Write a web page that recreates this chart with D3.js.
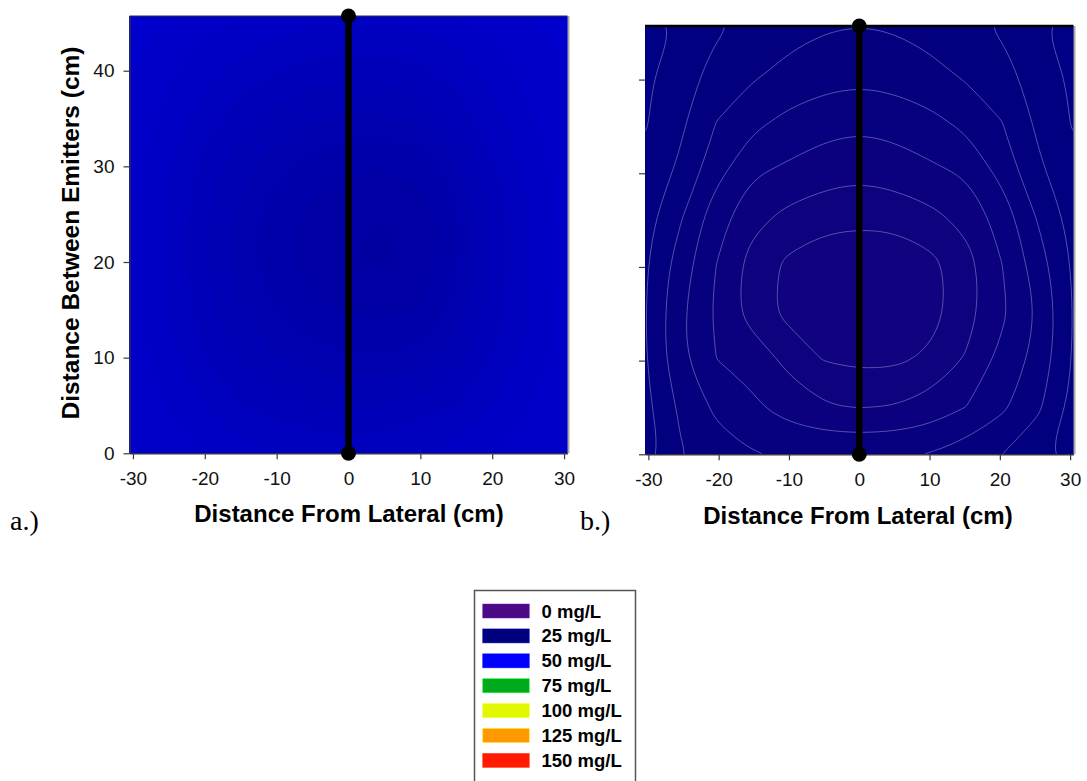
<!DOCTYPE html>
<html>
<head>
<meta charset="utf-8">
<script src="https://cdn.jsdelivr.net/npm/d3@7"></script>
<style>
  html, body { margin: 0; padding: 0; background: #ffffff; }
  svg { display: block; }
</style>
</head>
<body>
<svg id="chart" width="1087" height="781"></svg>
<script>
// ---------------- DATA ----------------
// Grid positions (cm): lateral distance and distance between emitters
const xGrid = [-30.48, -25.4, -20.32, -15.24, -10.16, -5.08, 0, 5.08, 10.16, 15.24, 20.32, 25.4, 30.48];
const yGrid = [0, 5.08, 10.16, 15.24, 20.32, 25.4, 30.48, 35.56, 40.64, 45.72];

// Panel a concentrations (mg/L), rows from y = 0 (bottom) to y = 45.72 (top)
const panelAValues = [
  [40.0, 39.5, 39.0, 38.5, 38.0, 37.8, 37.6, 37.8, 38.0, 38.5, 39.0, 39.5, 40.0],
  [40.0, 39.0, 38.0, 37.0, 36.5, 36.0, 35.8, 36.0, 36.5, 37.0, 38.0, 39.0, 40.0],
  [39.5, 38.5, 37.0, 35.8, 35.0, 34.5, 34.2, 34.2, 34.5, 35.5, 37.0, 38.5, 39.5],
  [39.5, 38.0, 36.5, 35.0, 34.0, 33.2, 32.8, 32.6, 33.0, 34.5, 36.5, 38.0, 39.5],
  [39.5, 38.0, 36.2, 34.6, 33.4, 32.5, 32.0, 31.8, 32.3, 34.0, 36.2, 38.0, 39.5],
  [39.5, 38.0, 36.3, 34.8, 33.6, 32.8, 32.2, 32.0, 32.4, 34.0, 36.3, 38.0, 39.5],
  [39.5, 38.2, 36.8, 35.5, 34.5, 33.8, 33.3, 33.2, 33.6, 35.0, 37.0, 38.5, 39.5],
  [40.0, 38.8, 37.6, 36.6, 35.8, 35.2, 35.0, 35.0, 35.4, 36.4, 37.8, 39.0, 40.0],
  [40.0, 39.3, 38.5, 37.8, 37.2, 36.8, 36.6, 36.6, 37.0, 37.6, 38.6, 39.4, 40.0],
  [40.5, 40.0, 39.5, 39.0, 38.6, 38.3, 38.2, 38.2, 38.5, 39.0, 39.5, 40.0, 40.5]
];

// Panel b concentrations (mg/L), rows from y = 0 (bottom) to y = 45.72 (top)
const panelBValues = [
  [25.6, 24.1, 23.4, 23.05, 22.95, 22.9, 22.85, 22.9, 23.05, 23.5, 24.0, 24.7, 25.7],
  [25.3, 23.8, 22.8, 22.2, 21.55, 21.1, 20.95, 21.05, 21.4, 22.0, 22.8, 23.8, 25.3],
  [25.1, 23.2, 22.0, 21.6, 20.75, 19.95, 19.75, 19.8, 20.2, 21.1, 22.3, 23.3, 25.1],
  [25.05, 23.2, 21.8, 20.55, 19.7, 19.15, 19.0, 19.0, 19.6, 20.6, 21.8, 23.1, 25.05],
  [25.15, 23.5, 22.0, 20.6, 19.8, 19.35, 19.2, 19.2, 19.7, 20.6, 22.0, 23.5, 25.15],
  [25.4, 24.1, 22.4, 21.35, 20.75, 20.4, 20.3, 20.4, 20.75, 21.35, 22.4, 24.1, 25.4],
  [25.8, 24.8, 23.4, 22.2, 21.85, 21.5, 21.3, 21.5, 21.85, 22.2, 23.4, 24.8, 25.8],
  [26.1, 25.2, 24.0, 23.3, 22.75, 22.4, 22.25, 22.4, 22.75, 23.3, 24.0, 25.2, 26.1],
  [26.2, 25.4, 24.7, 24.15, 23.75, 23.45, 23.3, 23.45, 23.75, 24.15, 24.7, 25.4, 26.2],
  [26.5, 25.9, 25.15, 24.7, 24.35, 24.1, 24.0, 24.1, 24.35, 24.7, 25.15, 25.9, 26.5]
];

// Contour levels
const panelAFillLevels = [31, 32, 33, 34, 35, 36, 37, 38, 39, 40];
const panelBFillLevels = [19, 20, 21, 22, 23, 24, 25, 26];
const panelBLineLevels = [20, 21, 22, 23, 24, 25, 26];

// Legend
const legendLevels = [0, 25, 50, 75, 100, 125, 150];
const legendLabels = ["0 mg/L", "25 mg/L", "50 mg/L", "75 mg/L", "100 mg/L", "125 mg/L", "150 mg/L"];
const legendColors = ["#4b0a84", "#00007e", "#0000ff", "#00aa1a", "#e0f800", "#ff9900", "#ff1a00"];

// Axes
const xTicks = [-30, -20, -10, 0, 10, 20, 30];
const yTicks = [0, 10, 20, 30, 40];
const xTitle = "Distance From Lateral (cm)";
const yTitle = "Distance Between Emitters (cm)";
const panelTags = ["a.)", "b.)"];

// Lateral (drip line) marker: x position and extent (cm)
const lateralX = [0];
const lateralY = [0, 45.72];

// ---------------- DRAWING ----------------
const svg = d3.select("#chart");
const colorScale = d3.scaleLinear().domain(legendLevels).range(legendColors).clamp(true);
const FONT = "'Liberation Sans', Arial, Helvetica, sans-serif";

function drawPanel(cfg) {
  const nx = xGrid.length, ny = yGrid.length;
  const x = d3.scaleLinear().domain([xGrid[0], xGrid[nx - 1]]).range([cfg.left, cfg.right]);
  const y = d3.scaleLinear().domain([yGrid[0], yGrid[ny - 1]]).range([cfg.bottom, cfg.top]);
  const stepX = (xGrid[nx - 1] - xGrid[0]) / (nx - 1);
  const stepY = (yGrid[ny - 1] - yGrid[0]) / (ny - 1);
  const flat = cfg.values.flat();

  const proj = p => [x(xGrid[0] + (p[0] - 0.5) * stepX), y(yGrid[0] + (p[1] - 0.5) * stepY)];
  const line = d3.line().curve(d3.curveBasisClosed);
  const pathOf = mp => mp.coordinates.map(poly =>
    poly.map(ring => line(ring.slice(0, -1).map(proj))).join("")).join("");

  const g = svg.append("g");
  const clipId = "clip-" + cfg.id;
  svg.append("defs").append("clipPath").attr("id", clipId)
    .append("rect")
    .attr("x", cfg.left).attr("y", cfg.top)
    .attr("width", cfg.right - cfg.left).attr("height", cfg.bottom - cfg.top);

  const plot = g.append("g").attr("clip-path", `url(#${clipId})`);
  const minV = d3.min(flat);
  plot.append("rect")
    .attr("x", cfg.left).attr("y", cfg.top)
    .attr("width", cfg.right - cfg.left).attr("height", cfg.bottom - cfg.top)
    .attr("fill", colorScale(minV));

  const fills = d3.contours().size([nx, ny]).thresholds(cfg.fillLevels).smooth(true)(flat);
  plot.selectAll("path.band").data(fills).join("path")
    .attr("class", "band")
    .attr("d", pathOf)
    .attr("fill", d => colorScale(d.value + 0.5))
    .attr("fill-rule", "evenodd")
    .attr("stroke", d => colorScale(d.value + 0.5))
    .attr("stroke-width", 0.3);

  if (cfg.lineLevels) {
    const lines = d3.contours().size([nx, ny]).thresholds(cfg.lineLevels).smooth(true)(flat);
    plot.selectAll("path.cline").data(lines).join("path")
      .attr("class", "cline")
      .attr("d", pathOf)
      .attr("fill", "none")
      .attr("stroke", "#a8a8e0")
      .attr("stroke-opacity", 0.6)
      .attr("stroke-width", 0.8);
  }

  // frame
  g.append("line").attr("x1", cfg.left).attr("x2", cfg.right).attr("y1", cfg.top).attr("y2", cfg.top)
    .attr("stroke", cfg.topStroke).attr("stroke-width", cfg.topWidth);
  g.append("line").attr("x1", cfg.right + 1).attr("x2", cfg.right + 1).attr("y1", cfg.top).attr("y2", cfg.bottom)
    .attr("stroke", "#a8a8a8").attr("stroke-width", 2);

  // axes
  const xAxis = g.append("g").attr("transform", `translate(0,${cfg.bottom})`)
    .call(d3.axisBottom(x).tickValues(xTicks).tickSize(6).tickSizeOuter(0).tickPadding(12).tickFormat(d3.format("d")));
  const yAxis = g.append("g").attr("transform", `translate(${cfg.left},0)`)
    .call(d3.axisLeft(y).tickValues(yTicks).tickSize(6).tickSizeOuter(0).tickPadding(9)
      .tickFormat(cfg.yLabels ? d3.format("d") : () => ""));
  [xAxis, yAxis].forEach(a => {
    a.select(".domain").attr("stroke", "#3a3a3a").attr("stroke-width", 1.2);
    a.selectAll(".tick line").attr("stroke", "#3a3a3a").attr("stroke-width", 1.2);
    a.selectAll(".tick text").attr("fill", "#111").style("font-family", FONT).style("font-size", "19px");
  });
  if (!cfg.yDomain) yAxis.select(".domain").remove();
  xAxis.selectAll(".tick text").text(d => d < 0 ? "-" + Math.abs(d) : d);

  // lateral marker
  const lat = g.append("g");
  lateralX.forEach(lx => {
    lat.append("line")
      .attr("x1", x(lx)).attr("x2", x(lx))
      .attr("y1", y(lateralY[0])).attr("y2", y(lateralY[1]))
      .attr("stroke", "#000").attr("stroke-width", 6.5);
    lateralY.forEach(ly => {
      lat.append("circle").attr("cx", x(lx)).attr("cy", y(ly)).attr("r", 7.5).attr("fill", "#000");
    });
  });

  // x title
  g.append("text")
    .attr("x", cfg.xTitleX).attr("y", cfg.xTitleY)
    .attr("text-anchor", "middle")
    .style("font-family", FONT).style("font-weight", "bold").style("font-size", "24px")
    .attr("fill", "#000")
    .text(xTitle);

  // panel tag
  g.append("text")
    .attr("x", cfg.tagX).attr("y", 530)
    .style("font-family", "'Liberation Serif', 'Times New Roman', serif").style("font-size", "28px")
    .attr("fill", "#000")
    .text(cfg.tag);

  return { x, y };
}

drawPanel({
  id: "a", values: panelAValues, fillLevels: panelAFillLevels, lineLevels: null,
  left: 129.5, right: 567.5, top: 16, bottom: 453.3,
  topStroke: "#333", topWidth: 1.2, yLabels: true, yDomain: true,
  xTitleX: 349, xTitleY: 522, tag: panelTags[0], tagX: 10
});

drawPanel({
  id: "b", values: panelBValues, fillLevels: panelBFillLevels, lineLevels: panelBLineLevels,
  left: 645, right: 1073.5, top: 26, bottom: 454.3,
  topStroke: "#000", topWidth: 2.5, yLabels: false, yDomain: false,
  xTitleX: 858, xTitleY: 523.5, tag: panelTags[1], tagX: 580
});

// y title (panel a)
svg.append("text")
  .attr("transform", "translate(79,233) rotate(-90)")
  .attr("text-anchor", "middle")
  .style("font-family", FONT).style("font-weight", "bold").style("font-size", "24.5px")
  .attr("fill", "#000")
  .text(yTitle);

// legend
const legend = svg.append("g");
legend.append("rect")
  .attr("x", 474.5).attr("y", 590.5).attr("width", 161).attr("height", 240)
  .attr("fill", "#fff").attr("stroke", "#555").attr("stroke-width", 1.5);
const rowY = d3.scalePoint().domain(legendLabels).range([604, 604 + 6 * 24.9]);
legendLabels.forEach((lab, i) => {
  legend.append("rect")
    .attr("x", 482.7).attr("y", rowY(lab))
    .attr("width", 46.6).attr("height", 14)
    .attr("fill", legendColors[i])
    .attr("stroke", d3.color(legendColors[i]).brighter(1.2)).attr("stroke-opacity", 0.6).attr("stroke-width", 0.8);
  legend.append("text")
    .attr("x", 541.5).attr("y", rowY(lab) + 13.5)
    .style("font-family", FONT).style("font-weight", "bold").style("font-size", "18.5px")
    .attr("fill", "#000")
    .text(lab);
});
</script>
</body>
</html>
